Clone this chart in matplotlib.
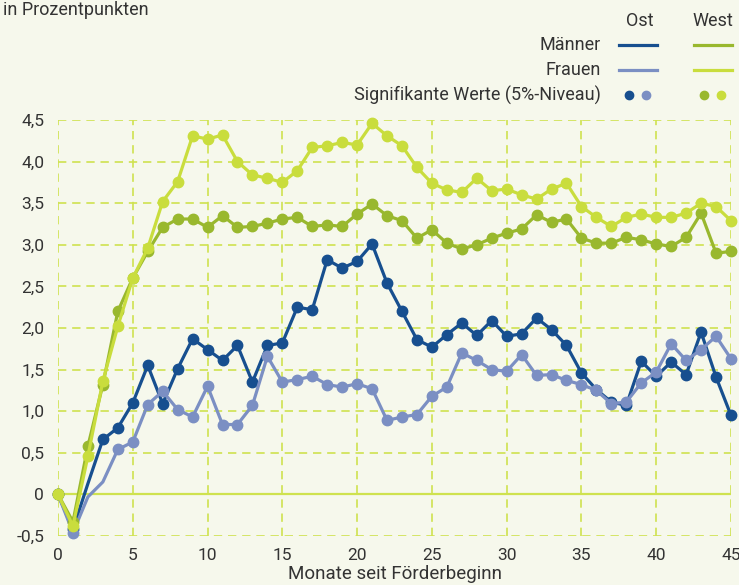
import matplotlib
matplotlib.use("Agg")
import matplotlib.pyplot as plt
from matplotlib import font_manager

# months since start of support
months = list(range(46))

# effects in percentage points
ost_maenner = [0, -0.42, 0.13, 0.66, 0.80, 1.10, 1.55, 1.09, 1.51, 1.87,
               1.74, 1.61, 1.79, 1.35, 1.79, 1.82, 2.25, 2.22, 2.82, 2.72,
               2.80, 3.01, 2.54, 2.20, 1.86, 1.77, 1.92, 2.06, 1.91, 2.09,
               1.90, 1.93, 2.12, 1.98, 1.79, 1.46, 1.26, 1.11, 1.07, 1.60,
               1.42, 1.59, 1.44, 1.95, 1.41, 0.95]
ost_frauen = [0, -0.46, -0.03, 0.15, 0.54, 0.63, 1.08, 1.24, 1.02, 0.93,
              1.30, 0.84, 0.84, 1.07, 1.66, 1.35, 1.38, 1.42, 1.32, 1.29,
              1.33, 1.27, 0.89, 0.93, 0.96, 1.18, 1.29, 1.70, 1.61, 1.50,
              1.48, 1.68, 1.43, 1.44, 1.37, 1.32, 1.25, 1.09, 1.11, 1.34,
              1.47, 1.81, 1.61, 1.74, 1.90, 1.63]
west_maenner = [0, -0.33, 0.58, 1.32, 2.20, 2.60, 2.92, 3.21, 3.31, 3.31,
                3.21, 3.35, 3.21, 3.22, 3.26, 3.31, 3.33, 3.22, 3.24, 3.22,
                3.37, 3.49, 3.35, 3.29, 3.08, 3.18, 3.02, 2.95, 3.00, 3.08,
                3.14, 3.19, 3.36, 3.27, 3.31, 3.08, 3.02, 3.02, 3.09, 3.06,
                3.01, 2.98, 3.09, 3.38, 2.90, 2.92]
west_frauen = [0, -0.38, 0.46, 1.36, 2.02, 2.60, 2.96, 3.52, 3.76, 4.31,
               4.27, 4.32, 4.00, 3.84, 3.80, 3.75, 3.89, 4.17, 4.19, 4.23,
               4.20, 4.46, 4.31, 4.19, 3.93, 3.74, 3.66, 3.63, 3.80, 3.65,
               3.67, 3.60, 3.55, 3.67, 3.74, 3.46, 3.33, 3.22, 3.33, 3.37,
               3.33, 3.33, 3.38, 3.50, 3.46, 3.29]

# months without a significant value (no dot)
not_sig_ost_maenner = [2]
not_sig_ost_frauen = [2, 3]

y_ticks = [-0.5, 0, 0.5, 1.0, 1.5, 2.0, 2.5, 3.0, 3.5, 4.0, 4.5]
x_ticks = [0, 5, 10, 15, 20, 25, 30, 35, 40, 45]

BG = "#f6f8ec"
GRID = "#cfe24f"
TEXT = "#333333"
C_OM = "#174f8f"
C_OF = "#7b8fc3"
C_WM = "#99b82e"
C_WF = "#c9dd3d"

names = {f.name for f in font_manager.fontManager.ttflist}
fam = [f for f in ["Liberation Sans Narrow", "Roboto", "DejaVu Sans"] if f in names]
plt.rcParams["font.family"] = fam

fig = plt.figure(figsize=(7.39, 5.85), dpi=100, facecolor=BG)
ax = fig.add_axes([58 / 739, 49 / 585, 673 / 739, 416 / 585], facecolor=BG)

for t in y_ticks:
    if t == 0:
        ax.axhline(0, color=GRID, lw=1.6, zorder=1)
    else:
        ax.axhline(t, color=GRID, lw=1.2, ls=(0, (5, 3.5)), zorder=1)
for t in x_ticks:
    ax.axvline(t, color=GRID, lw=1.2, ls=(0, (5, 3.5)), zorder=1)


def series(vals, color, skip):
    dots = [m for m in months if m not in skip]
    ax.plot(months, vals, color=color, lw=2.3, marker="o", ms=7.5,
            markevery=dots, clip_on=False, zorder=3)


series(ost_maenner, C_OM, not_sig_ost_maenner)
series(ost_frauen, C_OF, not_sig_ost_frauen)
series(west_maenner, C_WM, [])
series(west_frauen, C_WF, [])

ax.set_xlim(0, 45)
ax.set_ylim(-0.5, 4.5)
ax.set_xticks(x_ticks)
ax.set_yticks(y_ticks)
ax.set_yticklabels(["0" if t == 0 else f"{t:.1f}".replace(".", ",") for t in y_ticks])
ax.tick_params(length=0, labelsize=12.5, colors=TEXT)
ax.tick_params(axis="y", pad=10)
ax.tick_params(axis="x", pad=9)
for s in ax.spines.values():
    s.set_visible(False)
ax.set_xlabel("Monate seit Förderbeginn", fontsize=13.5, color=TEXT, labelpad=1)

# header and legend
fig.text(3 / 739, 1 - 10 / 585, "in Prozentpunkten", fontsize=13, color=TEXT,
         va="center", ha="left")
fig.text(640 / 739, 1 - 21 / 585, "Ost", fontsize=13, color=TEXT, ha="center", va="center")
fig.text(713 / 739, 1 - 21 / 585, "West", fontsize=13, color=TEXT, ha="center", va="center")
rows = [("Männer", 45, C_OM, C_WM), ("Frauen", 70, C_OF, C_WF)]
for label, yp, c1, c2 in rows:
    yf = 1 - yp / 585
    fig.text(601 / 739, yf, label, fontsize=13, color=TEXT, ha="right", va="center")
    fig.add_artist(plt.Line2D([619 / 739, 657 / 739], [yf, yf], color=c1, lw=2.3))
    fig.add_artist(plt.Line2D([694 / 739, 732 / 739], [yf, yf], color=c2, lw=2.3))
yf = 1 - 95 / 585
fig.text(601 / 739, yf, "Signifikante Werte (5%-Niveau)", fontsize=13, color=TEXT,
         ha="right", va="center")
for xp, c in [(629, C_OM), (646, C_OF), (704, C_WM), (721, C_WF)]:
    fig.add_artist(plt.Line2D([xp / 739], [yf], color=c, marker="o", ms=6, lw=0))

fig.savefig("out.png", dpi=100, facecolor=BG)
